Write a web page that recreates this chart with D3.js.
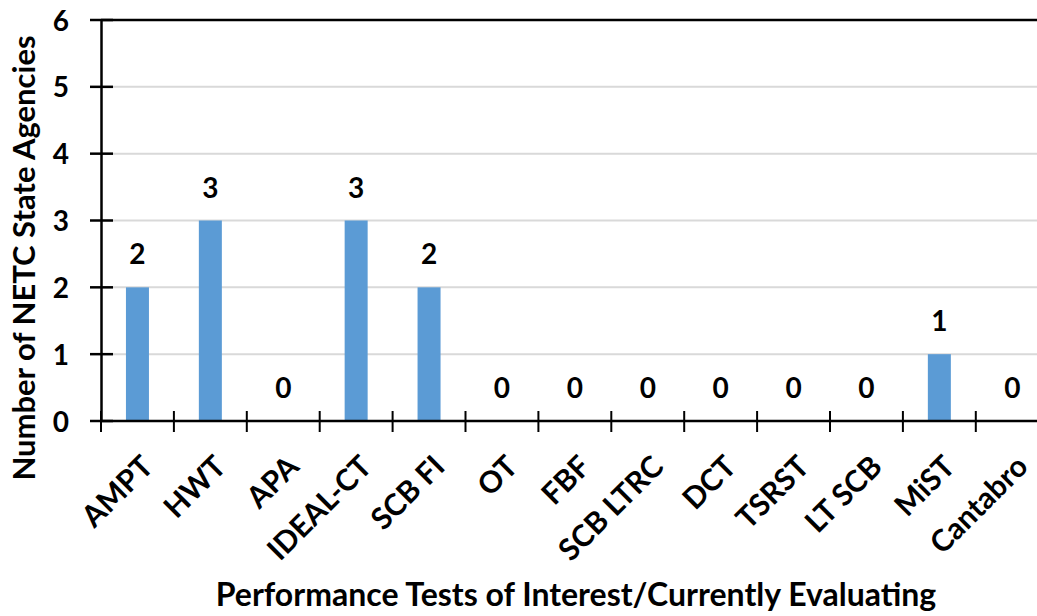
<!DOCTYPE html>
<html><head><meta charset="utf-8">
<script src="https://cdn.jsdelivr.net/npm/d3@7"></script>
<style>body{margin:0;background:#fff}svg{display:block}text{font-family:Lato,"Open Sans",sans-serif;font-weight:bold;fill:#000}</style>
</head><body>
<script>
const categories = ["AMPT","HWT","APA","IDEAL-CT","SCB FI","OT","FBF","SCB LTRC","DCT","TSRST","LT SCB","MiST","Cantabro"];
const values = [2,3,0,3,2,0,0,0,0,0,0,1,0];
const yTicks = [0,1,2,3,4,5,6];
const yTitle = "Number of NETC State Agencies";
const xTitle = "Performance Tests of Interest/Currently Evaluating";

const W=1037,H=616;
const svg=d3.select("body").append("svg").attr("width",W).attr("height",H);
const x=d3.scaleBand().domain(categories).range([101,101+13*72.9]).paddingInner(0).paddingOuter(0);
const y=d3.scaleLinear().domain([0,6]).range([421,20]);

// gridlines
svg.append("g").selectAll("line").data(yTicks.filter(d=>d>0&&d<6)).join("line")
 .attr("x1",101).attr("x2",W).attr("y1",d=>y(d)).attr("y2",d=>y(d))
 .attr("stroke","#d9d9d9").attr("stroke-width",2);
svg.append("line").attr("x1",101).attr("x2",W).attr("y1",y(6)).attr("y2",y(6)).attr("stroke","#000").attr("stroke-width",2.5);

// bars
svg.append("g").selectAll("rect").data(categories).join("rect")
 .attr("x",d=>x(d)+x.bandwidth()/2-11.5).attr("width",23)
 .attr("y",(d,i)=>y(values[i])).attr("height",(d,i)=>y(0)-y(values[i]))
 .attr("fill","#5b9bd5");

// y axis
const ya=svg.append("g").attr("transform","translate(101,0)")
 .call(d3.axisLeft(y).tickValues(yTicks).tickFormat(d3.format("d")).tickSize(0).tickPadding(32));
ya.select(".domain").attr("stroke","#000").attr("stroke-width",2.5);
ya.selectAll("text").style("font-size","28px").style("font-family","Lato,sans-serif").style("font-weight","bold").attr("dy","0.36em");
svg.append("g").selectAll("line").data(yTicks).join("line")
 .attr("x1",90).attr("x2",113).attr("y1",d=>y(d)).attr("y2",d=>y(d)).attr("stroke","#000").attr("stroke-width",2.5);

// x axis
svg.append("line").attr("x1",101).attr("x2",W).attr("y1",y(0)).attr("y2",y(0)).attr("stroke","#000").attr("stroke-width",2.5);
const bounds=categories.map(c=>x(c));
svg.append("g").selectAll("line").data(bounds).join("line")
 .attr("x1",d=>d).attr("x2",d=>d).attr("y1",411).attr("y2",432).attr("stroke","#000").attr("stroke-width",2);

// x labels
svg.append("g").selectAll("text").data(categories).join("text")
 .attr("transform",d=>`translate(${x(d)+x.bandwidth()/2+10},${461}) rotate(-45)`)
 .attr("text-anchor","end").attr("dy","0.35em").style("font-size","30px").text(d=>d);

// data labels
svg.append("g").selectAll("text").data(categories).join("text")
 .attr("x",d=>x(d)+x.bandwidth()/2).attr("y",(d,i)=>y(values[i])-23)
 .attr("text-anchor","middle").style("font-size","28px").text((d,i)=>values[i]);

// titles
svg.append("text").attr("transform","translate(35,258) rotate(-90)").attr("text-anchor","middle").style("font-size","31px").text(yTitle);
svg.append("text").attr("x",576).attr("y",606).attr("text-anchor","middle").style("font-size","32px").text(xTitle);
</script>
</body></html>
